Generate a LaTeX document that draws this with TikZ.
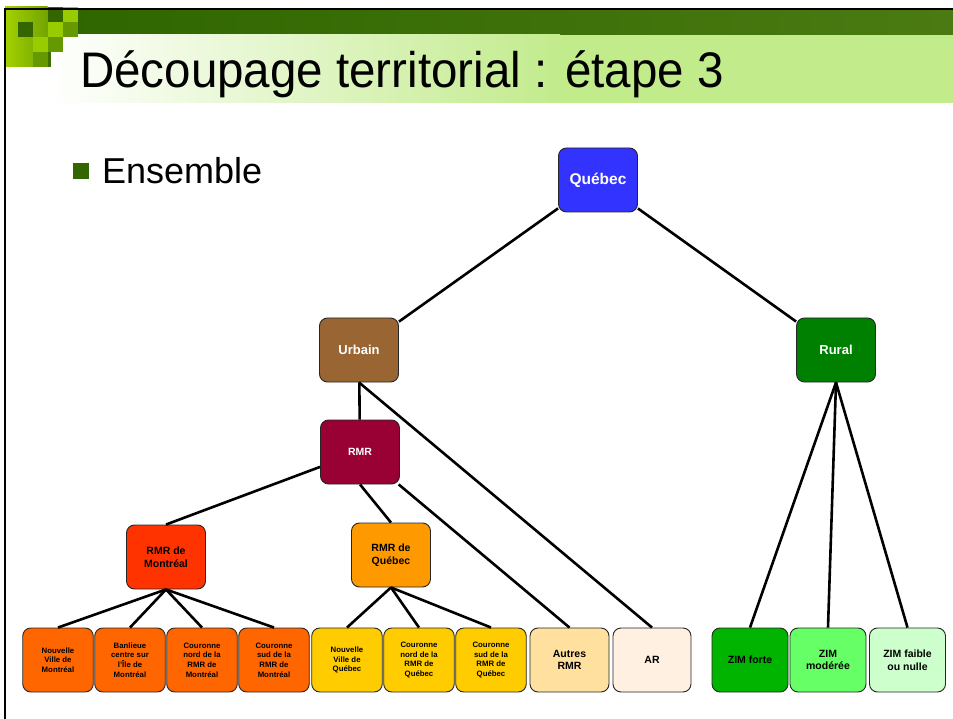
\documentclass[tikz,border=0pt]{standalone}
\usepackage{fontspec}
\setmainfont{Liberation Sans}

\definecolor{sqlight}{HTML}{A3D100}
\definecolor{sqbright}{HTML}{99CC00}
\definecolor{sqmid}{HTML}{669900}
\definecolor{sqdark}{HTML}{336600}
\definecolor{banddark}{HTML}{2F6600}
\definecolor{bandright}{HTML}{4B7A12}
\definecolor{paleband}{HTML}{C2EB8C}
\definecolor{cquebec}{HTML}{3333FF}
\definecolor{curbain}{HTML}{996633}
\definecolor{crural}{HTML}{008000}
\definecolor{crmr}{HTML}{990033}
\definecolor{cmtl}{HTML}{FF3300}
\definecolor{cqc}{HTML}{FF9900}
\definecolor{cmtlsub}{HTML}{FF6600}
\definecolor{cqcsub}{HTML}{FFCC00}
\definecolor{cautres}{HTML}{FFE09F}
\definecolor{car}{HTML}{FFF0E2}
\definecolor{czimforte}{HTML}{00B400}
\definecolor{czimmod}{HTML}{66FF66}
\definecolor{czimfaible}{HTML}{CCFFCC}

\begin{document}
\begin{tikzpicture}
  [x=1pt,y=-1pt,
   box/.style={draw=black!85,line width=0.9pt,rounded corners=8pt,align=center,inner sep=1pt,
               minimum width=79pt,minimum height=64pt,font=\bfseries\fontsize{10.5}{12.5}\selectfont},
   top/.style={box,text=white,font=\bfseries\fontsize{13}{15}\selectfont},
   leaf/.style={box,minimum width=70.5pt,font=\bfseries\fontsize{7.8}{9.6}\selectfont},
   zim/.style={box,minimum width=76pt}]
    \useasboundingbox (0,0) rectangle (953,719);

    % slide header
    \fill[left color=banddark,right color=bandright] (62,10) rectangle (953,35);
    \fill[left color=white,right color=paleband] (50,35) rectangle (560,103);
    \fill[paleband] (559,35) rectangle (953,103);
    \fill[left color=sqlight,right color=sqmid!80!sqlight] (5,7) rectangle (47.5,67);
    \foreach \x/\y/\c in {47.5/7/sqdark,62.5/7/sqbright,17.5/22/sqdark,47.5/22/sqbright,62.5/22/sqmid,
                          32.5/37/sqbright,47.5/37/sqmid,32.5/52/sqmid}
      \fill[\c] (\x,\y) rectangle ++(15,15);
    \fill[sqdark!80!sqmid] (47.5,52) rectangle (51,67);
    \draw[line width=2.5pt] (5,719) -- (5,9) -- (953,9);

    \node (title) [anchor=base west,inner sep=0pt] at (80,88)
      {\scalebox{0.95}[1]{\fontsize{50}{54}\selectfont Découpage territorial : étape 3}};
    \fill[sqdark] (73,163) rectangle (89,179);
    \node (ensemble) [anchor=base west,inner sep=0pt,font=\fontsize{36}{40}\selectfont] at (102,184) {Ensemble};

    % tree
    \node (quebec) [top,fill=cquebec,font=\bfseries\fontsize{15.5}{18}\selectfont] at (598,180) {Québec};
    \node (urbain) [top,fill=curbain] at (359,350) {Urbain};
    \node (rural)  [top,fill=crural]  at (836,350) {Rural};
    \node (rmr)    [box,fill=crmr,text=white] at (360,452) {RMR};
    \node (rmrmtl) [box,fill=cmtl] at (166,557) {RMR de\\Montréal};
    \node (rmrqc)  [box,fill=cqc]  at (391,555) {RMR de\\Québec};

    \node (nvmtl)  [leaf,fill=cmtlsub] at (58,660)  {Nouvelle\\Ville de\\Montréal};
    \node (banl)   [leaf,fill=cmtlsub] at (130,660) {Banlieue\\centre sur\\l'Île de\\Montréal};
    \node (cnmtl)  [leaf,fill=cmtlsub] at (202,660) {Couronne\\nord de la\\RMR de\\Montréal};
    \node (csmtl)  [leaf,fill=cmtlsub] at (274,660) {Couronne\\sud de la\\RMR de\\Montréal};
    \node (nvqc)   [leaf,fill=cqcsub]  at (347,660) {Nouvelle\\Ville de\\Québec};
    \node (cnqc)   [leaf,fill=cqcsub]  at (419,660) {Couronne\\nord de la\\RMR de\\Québec};
    \node (csqc)   [leaf,fill=cqcsub]  at (491,660) {Couronne\\sud de la\\RMR de\\Québec};
    \node (autres) [box,fill=cautres]  at (569.5,660) {Autres\\RMR};
    \node (ar)     [box,fill=car,minimum width=78pt] at (652,660) {AR};
    \node (zimf)   [zim,fill=czimforte]  at (750,660) {ZIM forte};
    \node (zimm)   [zim,fill=czimmod]    at (828,660) {ZIM\\modérée};
    \node (zimn)   [zim,fill=czimfaible] at (907.5,660) {ZIM faible\\ou nulle};

    \foreach \from/\to in {quebec/urbain,quebec/rural,urbain/rmr,urbain.south/ar.north,
                           rmr/rmrmtl.north,rmr.south/rmrqc.north,rmr/autres.north,
                           rmrmtl.south/nvmtl.north,rmrmtl.south/banl.north,rmrmtl.south/cnmtl.north,rmrmtl.south/csmtl.north,
                           rmrqc.south/nvqc.north,rmrqc.south/cnqc.north,rmrqc.south/csqc.north,
                           rural.south/zimf.north,rural.south/zimm.north,rural.south/zimn.north}
      \draw[line width=2.6pt] (\from) -- (\to);
  \end{tikzpicture}
\end{document}
